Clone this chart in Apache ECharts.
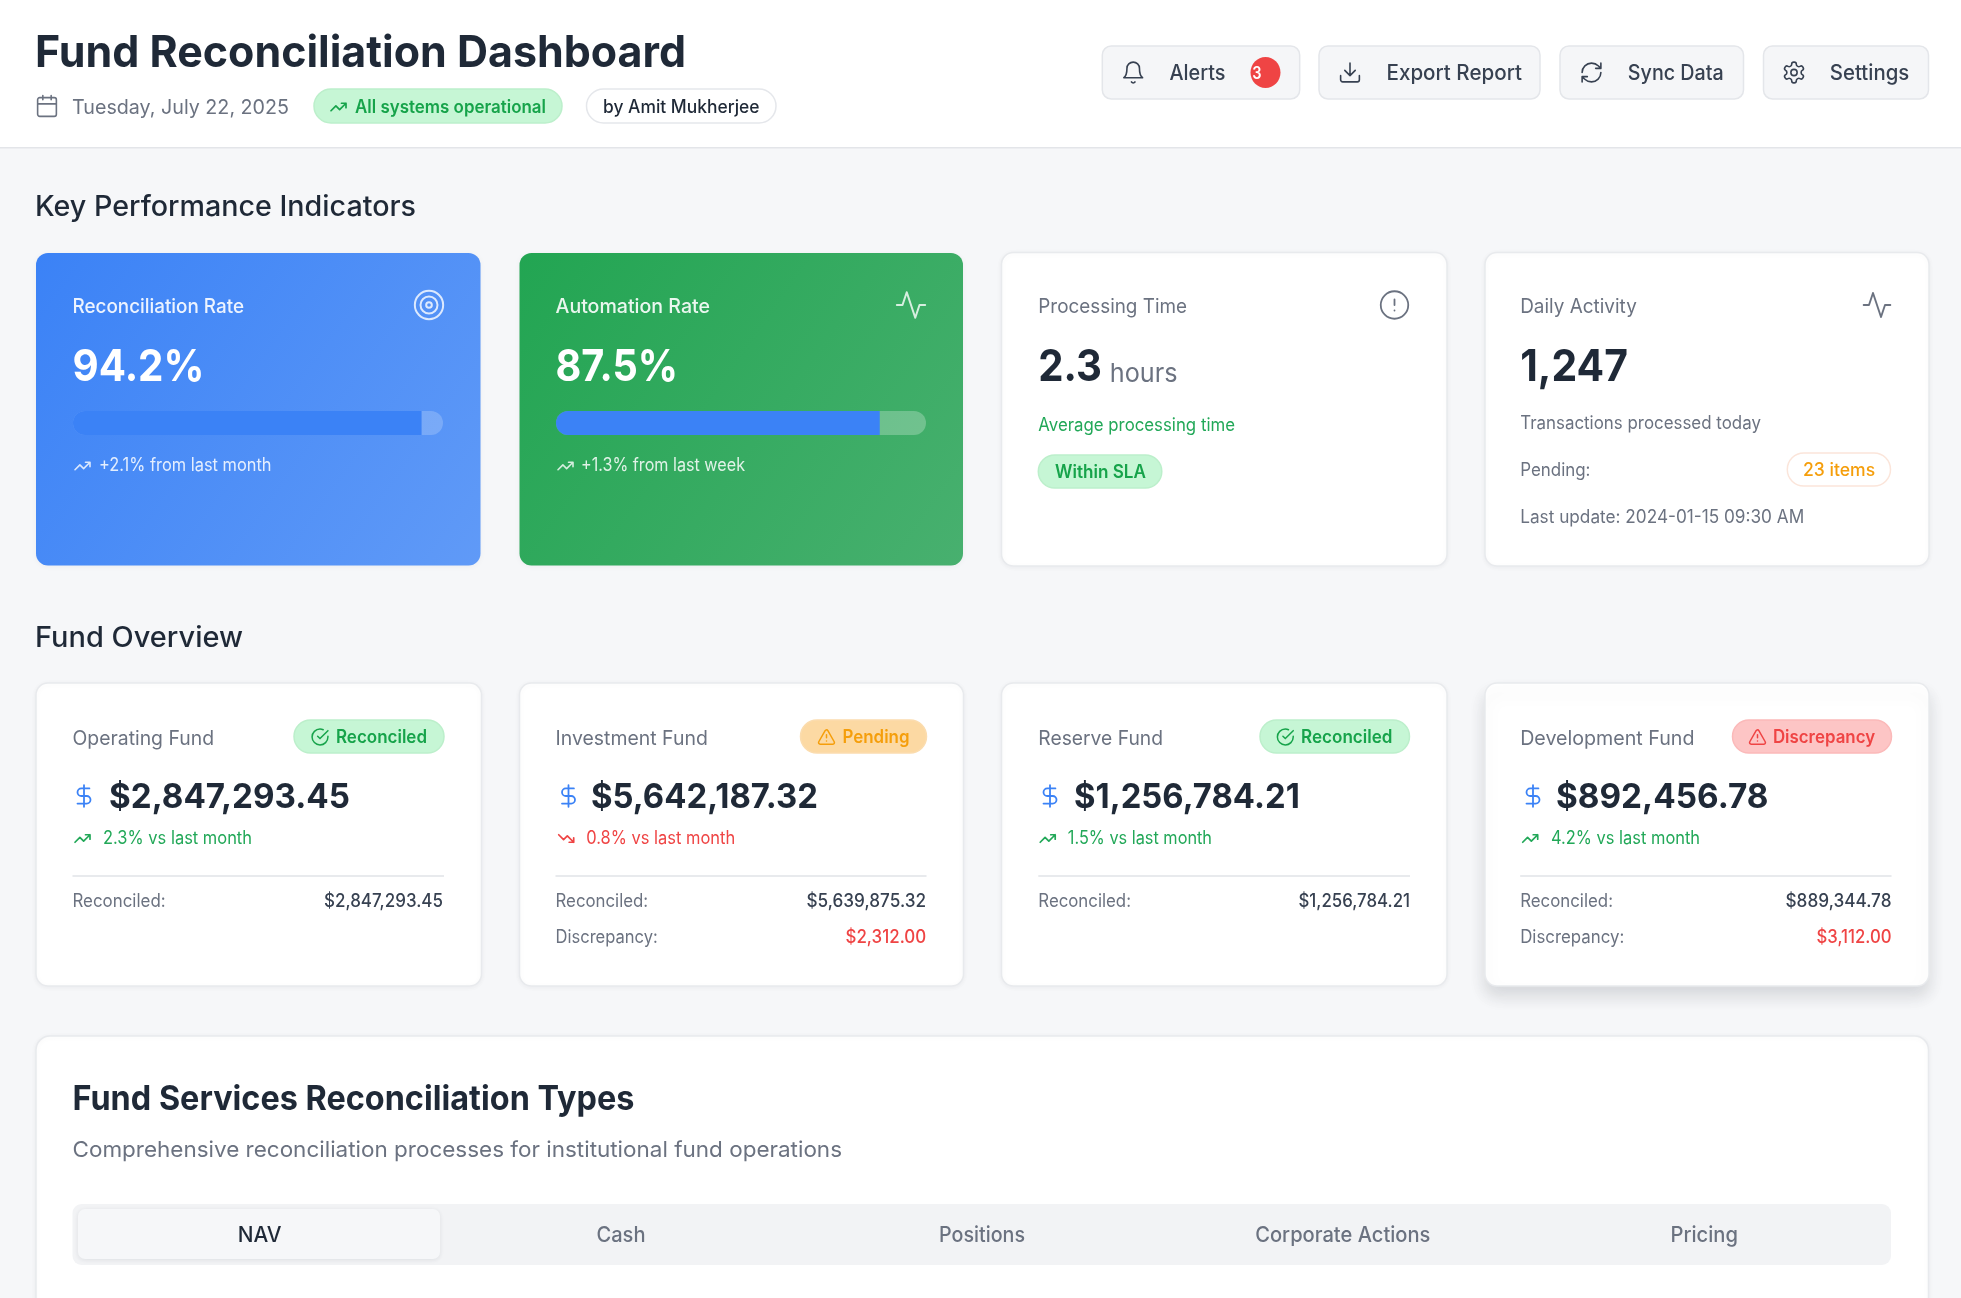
<!DOCTYPE html>
<html>
<head>
<meta charset="utf-8">
<title>Fund Reconciliation Dashboard</title>
<script src="https://cdn.jsdelivr.net/npm/echarts@6/dist/echarts.min.js"></script>
<style>
  html, body { margin: 0; padding: 0; background: #f6f7f9; }
  #main { width: 1961px; height: 1298px; }
</style>
</head>
<body>
<div id="main"></div>
<script>
// data
const progressNames = ['Reconciliation Rate', 'Automation Rate'];
const progressValues = [94.2, 87.5];
const progressDeltas = ['+2.1% from last month', '+1.3% from last week'];
const activityCount = 1247;
const processingHours = 2.3;
const pendingItems = 23;
const fundNames = ['Operating Fund', 'Investment Fund', 'Reserve Fund', 'Development Fund'];
const fundStatus = ['Reconciled', 'Pending', 'Reconciled', 'Discrepancy'];
const fundBalances = [2847293.45, 5642187.32, 1256784.21, 892456.78];
const fundChanges = [2.3, -0.8, 1.5, 4.2];
const fundReconciled = [2847293.45, 5639875.32, 1256784.21, 889344.78];
const fundDiscrepancy = [0, 2312.00, 0, 3112.00];
const buttonLabels = ['Alerts', 'Export Report', 'Sync Data', 'Settings'];
const tabLabels = ['NAV', 'Cash', 'Positions', 'Corporate Actions', 'Pricing'];

const FONT = 'Inter';
const INK = '#1f2937', GRAY = '#6b7280', GREEN = '#16a34a', RED = '#ef4444', ORANGE = '#f59e0b', BLUE = '#3b82f6';

const icons = {
  bell: 'M6 8a6 6 0 0 1 12 0c0 7 3 9 3 9H3s3-2 3-9 M10.3 21a1.94 1.94 0 0 0 3.4 0',
  download: 'M21 15v4a2 2 0 0 1-2 2H5a2 2 0 0 1-2-2v-4 M7 10l5 5 5-5 M12 15V3',
  refresh: 'M3 12a9 9 0 0 1 9-9 9.75 9.75 0 0 1 6.74 2.74L21 8 M21 3v5h-5 M21 12a9 9 0 0 1-9 9 9.75 9.75 0 0 1-6.74-2.74L3 16 M8 16H3v5',
  settings: 'M12.22 2h-.44a2 2 0 0 0-2 2v.18a2 2 0 0 1-1 1.73l-.43.25a2 2 0 0 1-2 0l-.15-.08a2 2 0 0 0-2.73.73l-.22.38a2 2 0 0 0 .73 2.73l.15.1a2 2 0 0 1 1 1.72v.51a2 2 0 0 1-1 1.74l-.15.09a2 2 0 0 0-.73 2.73l.22.38a2 2 0 0 0 2.73.73l.15-.08a2 2 0 0 1 2 0l.43.25a2 2 0 0 1 1 1.73V20a2 2 0 0 0 2 2h.44a2 2 0 0 0 2-2v-.18a2 2 0 0 1 1-1.73l.43-.25a2 2 0 0 1 2 0l.15.08a2 2 0 0 0 2.73-.73l.22-.39a2 2 0 0 0-.73-2.73l-.15-.08a2 2 0 0 1-1-1.74v-.5a2 2 0 0 1 1-1.74l.15-.09a2 2 0 0 0 .73-2.73l-.22-.38a2 2 0 0 0-2.73-.73l-.15.08a2 2 0 0 1-2 0l-.43-.25a2 2 0 0 1-1-1.73V4a2 2 0 0 0-2-2z M15 12a3 3 0 1 1-6 0 3 3 0 0 1 6 0',
  calendar: 'M8 2v4 M16 2v4 M5 4h14a2 2 0 0 1 2 2v14a2 2 0 0 1-2 2H5a2 2 0 0 1-2-2V6a2 2 0 0 1 2-2z M3 10h18',
  up: 'M22 7l-8.5 8.5-5-5L2 17 M16 7h6v6',
  down: 'M22 17l-8.5-8.5-5 5L2 7 M16 17h6v-6',
  activity: 'M22 12h-4l-3 9L9 3l-3 9H2',
  target: 'M22 12a10 10 0 1 1-20 0 10 10 0 0 1 20 0 M18 12a6 6 0 1 1-12 0 6 6 0 0 1 12 0 M14 12a2 2 0 1 1-4 0 2 2 0 0 1 4 0',
  alert: 'M22 12a10 10 0 1 1-20 0 10 10 0 0 1 20 0 M12 8v4 M12 16h.01',
  check: 'M22 11.08V12a10 10 0 1 1-5.93-9.14 M9 11l3 3L22 4',
  warn: 'M21.73 18l-8-14a2 2 0 0 0-3.48 0l-8 14A2 2 0 0 0 4 21h16a2 2 0 0 0 1.73-3 M12 9v4 M12 17h.01',
  dollar: 'M12 2v20 M17 5H9.5a3.5 3.5 0 0 0 0 7h5a3.5 3.5 0 0 1 0 7H6'
};
Object.keys(icons).forEach(k => {
  echarts.graphic.registerShape('icon-' + k, echarts.graphic.extendPath(icons[k]));
});

const ruler = document.createElement('canvas').getContext('2d');
const els = [];

// text squeezed to the width it takes in the reference
function T(str, x0, x1, base, size, weight, fill, opacity) {
  const font = `${weight} ${size}px ${FONT}`;
  ruler.font = font;
  const w = ruler.measureText(str).width;
  els.push({
    type: 'text', silent: true, z: 5,
    x: x0, y: base - 0.308 * size, scaleX: (x1 - x0) / w,
    style: { text: str, x: 0, y: 0, fill, font, align: 'left', verticalAlign: 'middle', opacity: opacity == null ? 1 : opacity }
  });
}

function I(name, cx, cy, size, stroke, lineWidth, opacity) {
  const s = size / 24;
  els.push({
    type: 'icon-' + name, silent: true, z: 5,
    x: cx - size / 2, y: cy - size / 2, scaleX: s, scaleY: s,
    style: { fill: 'none', stroke, lineWidth: (lineWidth || 1.6) / s, lineCap: 'round', lineJoin: 'round', opacity: opacity == null ? 1 : opacity }
  });
}

function R(x0, y0, x1, y1, r, fill, stroke, extra) {
  els.push({
    type: 'rect', silent: true, z: (extra && extra.z) || 1,
    shape: { x: x0, y: y0, width: x1 - x0, height: y1 - y0, r },
    style: Object.assign({ fill, stroke: stroke || 'none', lineWidth: stroke ? 1.5 : 0 }, extra && extra.style)
  });
}

const cardShadow = { shadowBlur: 5, shadowColor: 'rgba(31,41,55,0.05)', shadowOffsetY: 1 };
const money = v => '$' + v.toLocaleString('en-US', { minimumFractionDigits: 2, maximumFractionDigits: 2 });

// header
R(0, 0, 1961, 147, 0, '#ffffff');
R(0, 147, 1961, 148.5, 0, '#e3e5e9');
T('Fund Reconciliation Dashboard', 35, 686, 67, 44, 700, INK);
I('calendar', 47, 106, 25, GRAY, 1.6);
T('Tuesday, July 22, 2025', 72, 289, 114, 20, 400, GRAY);
R(314, 89, 562, 123, 17, '#c6f6d5', '#bcefcb');
I('up', 338.5, 107, 18, GREEN, 1.7);
T('All systems operational', 355, 546, 113, 18, 600, GREEN);
R(586.5, 89, 776, 123, 17, '#ffffff', '#e5e7eb');
T('by Amit Mukherjee', 603, 759.5, 113, 18, 500, INK);

const buttons = [
  { box: [1102.3, 1299.7], icon: 'bell', cx: 1133.2, text: [1169.5, 1225.5] },
  { box: [1319, 1540], icon: 'download', cx: 1350, text: [1386.5, 1522] },
  { box: [1560, 1743.5], icon: 'refresh', cx: 1591.5, text: [1627.8, 1723.8] },
  { box: [1763.5, 1928.5], icon: 'settings', cx: 1794, text: [1829.8, 1909.3] }
];
buttonLabels.forEach((label, i) => {
  const b = buttons[i];
  R(b.box[0], 46, b.box[1], 99, 9, '#f5f6f8', '#e4e6ea');
  I(b.icon, b.cx, 72.5, 25, '#374151', 1.6);
  T(label, b.text[0], b.text[1], 80, 21, 500, '#374151');
});
els.push({ type: 'ellipse', silent: true, z: 4, shape: { cx: 1265.5, cy: 72.5, rx: 15, ry: 15.5 }, style: { fill: RED } });
T('3', 1252.2, 1261.5, 79, 17, 600, '#ffffff');

// KPI section
T('Key Performance Indicators', 35, 416, 216, 28, 500, INK);

R(36, 253, 480.5, 565.5, 12, new echarts.graphic.LinearGradient(0, 0, 1, 1, [
  { offset: 0, color: '#3b82f6' }, { offset: 1, color: '#609af7' }
]), null, { style: cardShadow });
R(519.5, 253, 963, 565.5, 12, new echarts.graphic.LinearGradient(0, 0, 1, 1, [
  { offset: 0, color: '#22a552' }, { offset: 1, color: '#48b06f' }
]), null, { style: cardShadow });
R(1001.5, 252.5, 1447, 566, 12, '#ffffff', '#e8eaed', { style: cardShadow });
R(1485, 252.5, 1929, 566, 12, '#ffffff', '#e8eaed', { style: cardShadow });

const progressText = [
  { name: [72.5, 244], value: [72.5, 204.5], icon: 'target', iconX: 429, trendX: 82.5, delta: [99, 271.5] },
  { name: [555.5, 710], value: [555.5, 678], icon: 'activity', iconX: 911, trendX: 565.5, delta: [581, 745] }
];
progressNames.forEach((name, i) => {
  const p = progressText[i];
  T(name, p.name[0], p.name[1], 313, 20, 500, '#ffffff', 0.9);
  I(p.icon, p.iconX, 305, 34, '#ffffff', 2, 0.8);
  T(progressValues[i].toFixed(1) + '%', p.value[0], p.value[1], 381, 44, 700, '#ffffff');
  I('up', p.trendX, 466, 18, '#ffffff', 1.6, 0.8);
  T(progressDeltas[i], p.delta[0], p.delta[1], 471, 18, 400, '#ffffff', 0.85);
});

T('Processing Time', 1038.3, 1187, 313, 20, 400, GRAY);
I('alert', 1394.5, 305, 33, GRAY, 1.8);
T(String(processingHours), 1038.3, 1102, 381, 44, 700, INK);
T('hours', 1109.8, 1177.5, 382, 26, 400, GRAY);
T('Average processing time', 1038.3, 1235, 431, 18, 400, '#22a858');
R(1038.3, 455, 1161.8, 488, 16.5, '#c6f6d5', '#bcefcb');
T('Within SLA', 1055, 1146, 478, 18, 600, GREEN);

T('Daily Activity', 1520.2, 1636.8, 313, 20, 400, GRAY);
I('activity', 1877, 305, 32, GRAY, 1.9);
T(activityCount.toLocaleString('en-US'), 1520.2, 1628, 381, 44, 700, INK);
T('Transactions processed today', 1520.2, 1760.9, 429, 18, 400, GRAY);
T('Pending:', 1520.2, 1590.5, 476, 18, 400, GRAY);
R(1787.3, 453, 1890.5, 486, 16.5, '#ffffff', '#fbe5da');
T(pendingItems + ' items', 1803, 1875.1, 476, 18, 500, ORANGE);
T('Last update: 2024-01-15 09:30 AM', 1520.2, 1804.2, 523, 18, 400, GRAY);

// fund section
T('Fund Overview', 35, 243, 647, 28, 500, INK);

const statusStyle = {
  Reconciled: { fill: '#c6f6d5', stroke: '#bcefcb', ink: GREEN, icon: 'check' },
  Pending: { fill: '#fcd9a3', stroke: '#fbdcae', ink: ORANGE, icon: 'warn' },
  Discrepancy: { fill: '#fdc5c5', stroke: '#fbb9b9', ink: RED, icon: 'warn' }
};
const fundLayout = [
  { card: [36, 481.5], left: 72.5, right: 444, name: 214, pill: [294, 444], pillIcon: 320, pillText: [336, 427], dollar: 84, value: [109, 350], trendIcon: 82.5, trend: [103, 252], recEnd: 165.6, rec: [324, 443] },
  { card: [519.5, 963.5], left: 555.5, right: 926.5, name: 707.8, pill: [800.5, 926.5], pillIcon: 826.5, pillText: [842.5, 909.5], dollar: 568.5, value: [591, 818], trendIcon: 566.2, trend: [586.2, 735.2], recEnd: 648.2, rec: [806.5, 926], disc: [845.5, 926.2], discEnd: 657.8 },
  { card: [1001.5, 1447], left: 1038.3, right: 1410, name: 1163, pill: [1260, 1409.5], pillIcon: 1285.3, pillText: [1301, 1392.5], dollar: 1050, value: [1074, 1299.8], trendIcon: 1047.7, trend: [1067.8, 1212], recEnd: 1131, rec: [1298.5, 1410] },
  { card: [1485, 1929], left: 1520.2, right: 1891.5, name: 1694.5, pill: [1732.5, 1891.5], pillIcon: 1757.5, pillText: [1772.9, 1875.1], dollar: 1533, value: [1555.9, 1768.5], trendIcon: 1530.2, trend: [1550.9, 1700.1], recEnd: 1613, rec: [1785.5, 1891.5], disc: [1816.5, 1891.5], discEnd: 1624.3 }
];
fundNames.forEach((name, i) => {
  const L = fundLayout[i];
  const st = statusStyle[fundStatus[i]];
  const change = fundChanges[i];
  const hover = i === 3;
  R(L.card[0], 683, L.card[1], 986, 12, '#ffffff', '#e8eaed', {
    style: hover ? { shadowBlur: 16, shadowColor: 'rgba(31,41,55,0.15)', shadowOffsetY: 10 } : cardShadow
  });
  T(name, L.left, L.name, 745, 20, 400, GRAY);
  R(L.pill[0], 720, L.pill[1], 753, 16.5, st.fill, st.stroke);
  I(st.icon, L.pillIcon, 737, 19, st.ink, 1.5);
  T(fundStatus[i], L.pillText[0], L.pillText[1], 743, 18, 600, st.ink);
  I('dollar', L.dollar, 796, 26, BLUE, 1.8);
  T(money(fundBalances[i]), L.value[0], L.value[1], 808, 34, 700, INK);
  const tone = change >= 0 ? '#22a858' : RED;
  I(change >= 0 ? 'up' : 'down', L.trendIcon, 838.5, 18, tone, 1.7);
  T(Math.abs(change).toFixed(1) + '% vs last month', L.trend[0], L.trend[1], 844, 18, 400, tone);
  R(L.left, 875, L.right, 877, 0, '#e8eaed');
  T('Reconciled:', L.left, L.recEnd, 907, 18, 400, GRAY);
  T(money(fundReconciled[i]), L.rec[0], L.rec[1], 907, 18, 500, '#374151');
  if (fundDiscrepancy[i] > 0) {
    T('Discrepancy:', L.left, L.discEnd, 943, 18, 400, GRAY);
    T(money(fundDiscrepancy[i]), L.disc[0], L.disc[1], 943, 18, 500, RED);
  }
});

// reconciliation types panel, runs off the bottom of the page
R(36, 1036, 1928.5, 1330, 14, '#ffffff', '#e8eaed', { style: cardShadow });
T('Fund Services Reconciliation Types', 72.5, 634.5, 1110, 34, 700, INK);
T('Comprehensive reconciliation processes for institutional fund operations', 72.5, 842, 1157, 22, 400, GRAY);
R(72.5, 1204, 1891, 1265, 9, '#f2f3f5');
R(78, 1209, 440, 1259, 7, '#f6f7f9', null, { style: { shadowBlur: 4, shadowColor: 'rgba(31,41,55,0.1)', shadowOffsetY: 1 } });
const tabText = [[237.8, 281.6], [596.5, 645.5], [939, 1025], [1255.2, 1430.4], [1670.5, 1738]];
tabLabels.forEach((label, i) => {
  T(label, tabText[i][0], tabText[i][1], 1242, 21, 500, i === 0 ? INK : GRAY);
});

// the two progress bars are real bar series on hidden value axes
const barGrids = [
  { left: 73, top: 411, width: 370, height: 24 },
  { left: 556, top: 411, width: 370, height: 24 }
];
const trackColors = ['rgba(255,255,255,0.2)', 'rgba(255,255,255,0.25)'];

const option = {
  animation: false,
  backgroundColor: '#f6f7f9',
  graphic: { elements: els },
  grid: barGrids,
  xAxis: barGrids.map((g, i) => ({ type: 'value', gridIndex: i, min: 0, max: 100, show: false })),
  yAxis: barGrids.map((g, i) => ({ type: 'category', gridIndex: i, data: [progressNames[i]], show: false })),
  series: progressValues.map((v, i) => ({
    type: 'bar',
    xAxisIndex: i,
    yAxisIndex: i,
    data: [v],
    barWidth: 24,
    silent: true,
    z: 3,
    showBackground: true,
    backgroundStyle: { color: trackColors[i], borderRadius: 12 },
    itemStyle: { color: BLUE, borderRadius: [12, 0, 0, 12] }
  }))
};

const chart = echarts.init(document.getElementById('main'));
chart.setOption(option);
</script>
</body>
</html>
